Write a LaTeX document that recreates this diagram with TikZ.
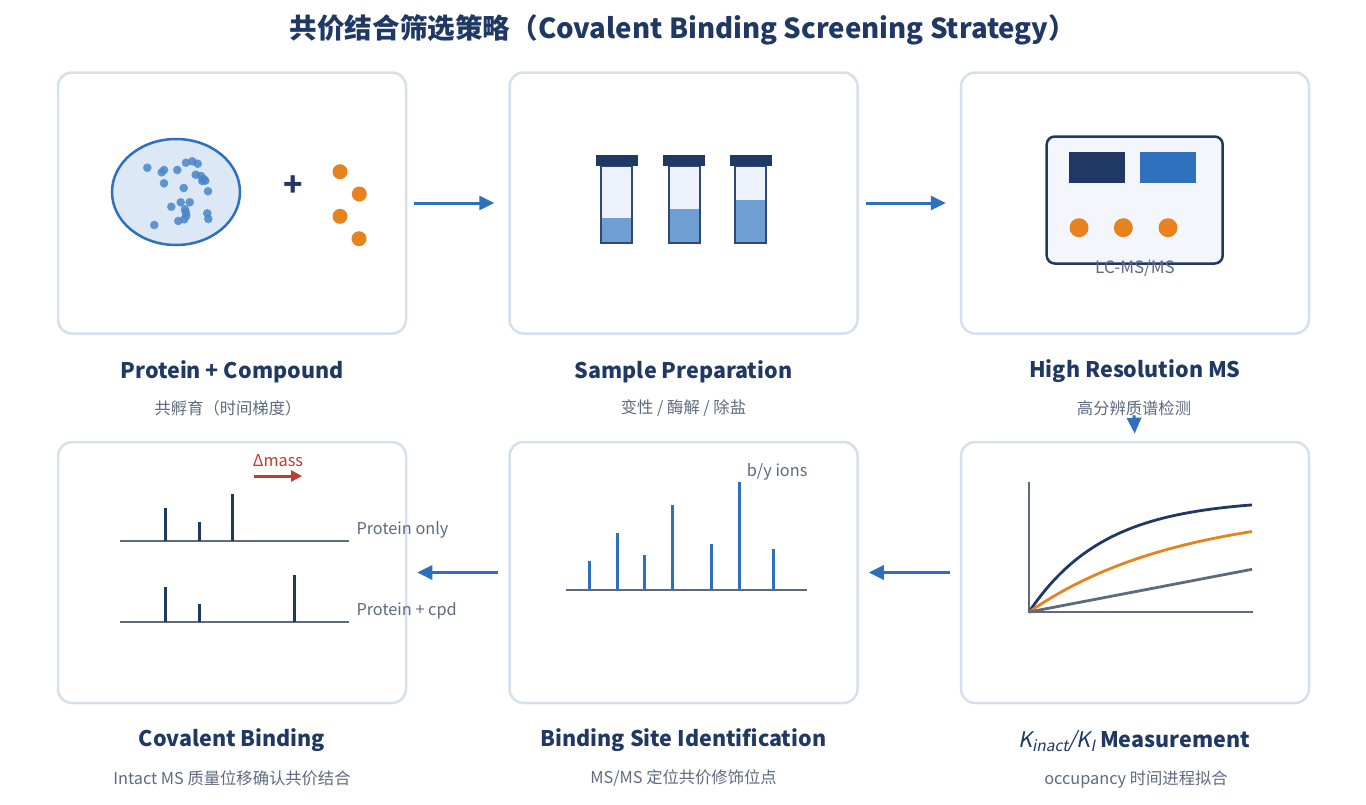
\documentclass[tikz,border=0pt]{standalone}
\usepackage{fontspec}
\setmainfont{Noto Sans CJK SC}
\newfontfamily\slantfont[FakeSlant=0.2]{Noto Sans CJK SC}
\usetikzlibrary{arrows.meta}
\usetikzlibrary{shapes.geometric}
\usetikzlibrary{calc}

\definecolor{navy}{HTML}{1F3864}
\definecolor{slate}{HTML}{5C6B7E}
\definecolor{cardline}{HTML}{D6E0EC}
\definecolor{flowblue}{HTML}{2E70BB}
\definecolor{dotblue}{HTML}{4A86C8}
\definecolor{cellfill}{HTML}{DCE8F6}
\definecolor{amber}{HTML}{E6831F}
\definecolor{tubebg}{HTML}{EDF2FA}
\definecolor{liquid}{HTML}{6F9FD2}
\definecolor{tubeline}{HTML}{2C4A75}
\definecolor{panel}{HTML}{F3F7FC}
\definecolor{shiftred}{HTML}{C43A2F}

\begin{document}
\begin{tikzpicture}[x=1pt, y=-1pt,
    card/.style={draw=cardline, line width=2.5pt, rounded corners=14pt, fill=white, minimum width=348pt, minimum height=261pt, inner sep=0pt},
    heading/.style={text=navy, font=\fontsize{21.5}{24}\selectfont\bfseries, inner sep=0pt},
    caption/.style={text=slate, font=\fontsize{16.3}{19}\selectfont, inner sep=0pt},
    flow/.style={draw=flowblue, line width=3pt, -{Triangle[length=15pt,width=14pt]}},
    peak/.style={draw=navy, line width=3pt},
    base/.style={draw=slate, line width=2pt}]
    \useasboundingbox (0,0) rectangle (1366,804);

    \node[text=navy, font=\fontsize{27.6}{32}\selectfont\bfseries] (title) at (683,29.5) {共价结合筛选策略（Covalent Binding Screening Strategy）};

    \node[card] (mix) at (232,203) {};
    \node[card] (prep) at (683.5,203) {};
    \node[card] (hrms) at (1135,203) {};
    \node[card] (cov) at (232,572.5) {};
    \node[card] (site) at (683.5,572.5) {};
    \node[card] (kin) at (1135,572.5) {};

    \node[heading] (mixhead) at (232,371.5) {Protein + Compound};
    \node[caption] (mixsub) at (228,408.5) {共孵育（时间梯度）};
    \node[heading] (prephead) at (683.5,371.5) {Sample Preparation};
    \node[caption] (prepsub) at (683.5,408.5) {变性 / 酶解 / 除盐};
    \node[heading] (hrmshead) at (1135,371.5) {High Resolution MS};
    \node[caption] (hrmssub) at (1134,408.5) {高分辨质谱检测};
    \node[heading] (covhead) at (232,740.5) {Covalent Binding};
    \node[caption] (covsub) at (232,778.5) {Intact MS 质量位移确认共价结合};
    \node[heading] (sitehead) at (683.5,740.5) {Binding Site Identification};
    \node[caption] (sitesub) at (683.5,778.5) {MS/MS 定位共价修饰位点};
    \node[heading] (kinhead) at (1134,741) {{\mdseries\slantfont K\raisebox{-0.35ex}{\fontsize{15.5}{18}\selectfont inact}/K\raisebox{-0.35ex}{\fontsize{15.5}{18}\selectfont I}} Measurement};
    \node[caption] (kinsub) at (1136,779.5) {occupancy 时间进程拟合};

    \draw[flow, shorten <=7pt, shorten >=14pt] (mix.east) -- (prep.west);
    \draw[flow, shorten <=7pt, shorten >=14pt] (prep.east) -- (hrms.west);
    \draw[flow, -{Triangle[length=16pt,width=14pt]}, shorten <=-1pt, shorten >=7pt] (hrmssub.south) -- (kin.north);
    \draw[flow, shorten <=10pt, shorten >=10pt] (kin.west) -- (site.east);
    \draw[flow, shorten <=10pt, shorten >=10pt] (site.west) -- (cov.east);

    \node[ellipse, draw=flowblue, fill=cellfill, line width=2.5pt, minimum width=128pt, minimum height=106pt] (protein) at (176,192) {};
    \foreach \p in {(147.3,167.7),(161.7,172.3),(164,170),(177.3,170),(186,162.7),(192.3,161.3),(197.7,163.7),(195.7,174.7),(201,176),(203.7,179),(205.3,180.7),(202.3,181),(164,183.3),(183.7,188),(208,191.3),(180.7,202.3),(189.7,202.3),(171.3,206.7),(185,209.3),(185.7,212.3),(186.3,215.7),(207.3,213.3),(208.3,219),(184.3,219.3),(178.3,221),(154.3,225)}
        \fill[dotblue, fill opacity=0.85] \p circle (4.3);
    \node[text=navy, font=\fontsize{32}{34}\selectfont\bfseries] (plus) at (293,186) {+};
    \foreach \p in {(340,171.7),(359.3,194),(340,216.3),(359,238.7)}
        \fill[amber] \p circle (7.5);

    \foreach \x/\lvl in {616.5/217.7, 684/209, 750.7/200} {
        \fill[tubebg] (\x-15.5,165.7) rectangle (\x+15.5,243.3);
        \fill[liquid] (\x-15.5,\lvl) rectangle (\x+15.5,243.3);
        \draw[tubeline, line width=2pt] (\x-15.5,165.7) rectangle (\x+15.5,243.3);
        \fill[navy] (\x-21,155) rectangle (\x+21,165.7);
    }

    \node[draw=navy, fill=panel, line width=2.5pt, rounded corners=8pt, minimum width=176pt, minimum height=127pt] (instrument) at (1134.7,200) {};
    \fill[navy] (1069,152) rectangle (1125,182.7);
    \fill[flowblue] (1140,152) rectangle (1196,182.7);
    \foreach \x in {1079,1123.3,1168}
        \fill[amber] (\x,227.7) circle (9.5);
    \node[caption, font=\fontsize{17}{19}\selectfont] (lcms) at (1135,268) {LC-MS/MS};

    \node[text=shiftred, font=\fontsize{16.3}{19}\selectfont, inner sep=0pt] (dmass) at (278,461) {Δmass};
    \coordinate (shiftfrom) at (254,476);
    \coordinate (shiftto) at (302,476);
    \draw[draw=shiftred, line width=3pt, -{Triangle[length=11pt,width=11pt]}] (shiftfrom) -- (shiftto);
    \draw[base] (120,540.7) -- (349.3,540.7);
    \draw[base] (120,622) -- (349.3,622);
    \foreach \x/\top in {165.3/507.7, 199.3/522.3, 232.3/493.7}
        \draw[peak] (\x,540.7) -- (\x,\top);
    \foreach \x/\top in {165.3/587.3, 199.3/603.7, 294.3/575}
        \draw[peak] (\x,622) -- (\x,\top);
    \node[caption, anchor=west] (only) at (356.3,530) {Protein only};
    \node[caption, anchor=west] (withcpd) at (356.3,610.7) {Protein + cpd};

    \draw[base] (565.7,589.7) -- (806.7,589.7);
    \foreach \x/\top in {589.3/561.3, 617.3/533.3, 644.3/555, 672/505.3, 711.3/544.3, 739.3/482.3, 773.3/549.3}
        \draw[peak, draw=flowblue] (\x,589.7) -- (\x,\top);
    \node[caption, anchor=west] (ions) at (746.7,472.3) {b/y ions};

    \draw[base] (1029,482.3) -- (1029,612.3) -- (1252.7,612.3);
    \draw[navy, line width=2.8pt] plot[domain=0:223, samples=60, smooth] ({1029+\x},{612-113*(1-exp(-0.01324*\x))});
    \draw[amber, line width=2.8pt] plot[domain=0:223, samples=60, smooth] ({1029+\x},{612-104.2*(1-exp(-0.00663*\x))});
    \draw[slate, line width=2.8pt] (1029,612) -- (1252,569.3);
\end{tikzpicture}
\end{document}
